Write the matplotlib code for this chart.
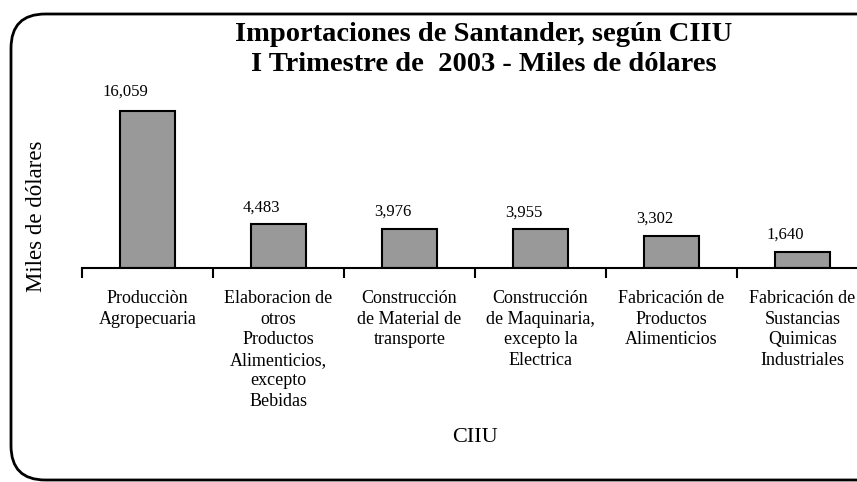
import matplotlib
matplotlib.use("Agg")
import matplotlib.pyplot as plt
from matplotlib.patches import FancyBboxPatch
import numpy as np

categories = [
    "Producciòn\nAgropecuaria",
    "Elaboracion de\notros\nProductos\nAlimenticios,\nexcepto\nBebidas",
    "Construcción\nde Material de\ntransporte",
    "Construcción\nde Maquinaria,\nexcepto la\nElectrica",
    "Fabricación de\nProductos\nAlimenticios",
    "Fabricación de\nSustancias\nQuimicas\nIndustriales",
]
values = [16059, 4483, 3976, 3955, 3302, 1640]
value_labels = ["16,059", "4,483", "3,976", "3,955", "3,302", "1,640"]

title = "Importaciones de Santander, según CIIU\nI Trimestre de  2003 - Miles de dólares"
xlabel = "CIIU"
ylabel = "Miles de dólares"

W, H = 857, 482
fig = plt.figure(figsize=(W / 100, H / 100), dpi=100)
plt.rcParams['font.family'] = ['Liberation Serif', 'DejaVu Serif']

# rounded border
border = FancyBboxPatch((11 / W, 2 / H), (W + 40 - 11) / W, (H - 14 - 2) / H,
                        boxstyle="round,pad=0,rounding_size=0.04",
                        transform=fig.transFigure, fill=False,
                        edgecolor="black", linewidth=2.0, mutation_aspect=W / H)
fig.patches.append(border)

px_per_unit = 157 / 16059
ax_left, ax_bottom_px, ax_top_px = 82, 268, 100
ax_w = 6 * 131
ax = fig.add_axes([ax_left / W, (H - ax_bottom_px) / H, ax_w / W,
                   (ax_bottom_px - ax_top_px) / H])
ax.set_facecolor("none")
x = np.arange(len(values))
ax.bar(x, values, width=0.42, color="#999999", edgecolor="black", linewidth=1.5)
ax.set_xlim(-0.5, len(values) - 0.5)
ax.set_ylim(0, (ax_bottom_px - ax_top_px) / px_per_unit)

for s in ["top", "right", "left"]:
    ax.spines[s].set_visible(False)
ax.spines["bottom"].set_linewidth(1.5)
ax.set_yticks([])
ax.set_xticks(x)
ax.set_xticklabels(categories, fontsize=13, linespacing=1.27)
ax.tick_params(axis="x", which="major", length=0, pad=16)
ax.set_xticks(np.arange(len(values)) - 0.5, minor=True)
ax.tick_params(axis="x", which="minor", length=7, width=1.5)

for i, (v, lab) in enumerate(zip(values, value_labels)):
    dy = 11 if i == 0 else 9
    dx = -22 if i == 0 else -17
    ax.annotate(lab, (x[i], v), xytext=(dx, dy), textcoords="offset pixels",
                ha="center", va="bottom", fontsize=12)

fig.text(484 / W, 1 - 49.5 / H, title, ha="center", va="center",
         fontsize=20.5, fontweight="bold", linespacing=1.25)
fig.text(37 / W, 1 - 216 / H, ylabel, ha="center", va="center",
         rotation=90, fontsize=16.5)
fig.text(475 / W, 1 - 438 / H, xlabel, ha="center", va="center", fontsize=16)

fig.savefig("out.png", dpi=100)
